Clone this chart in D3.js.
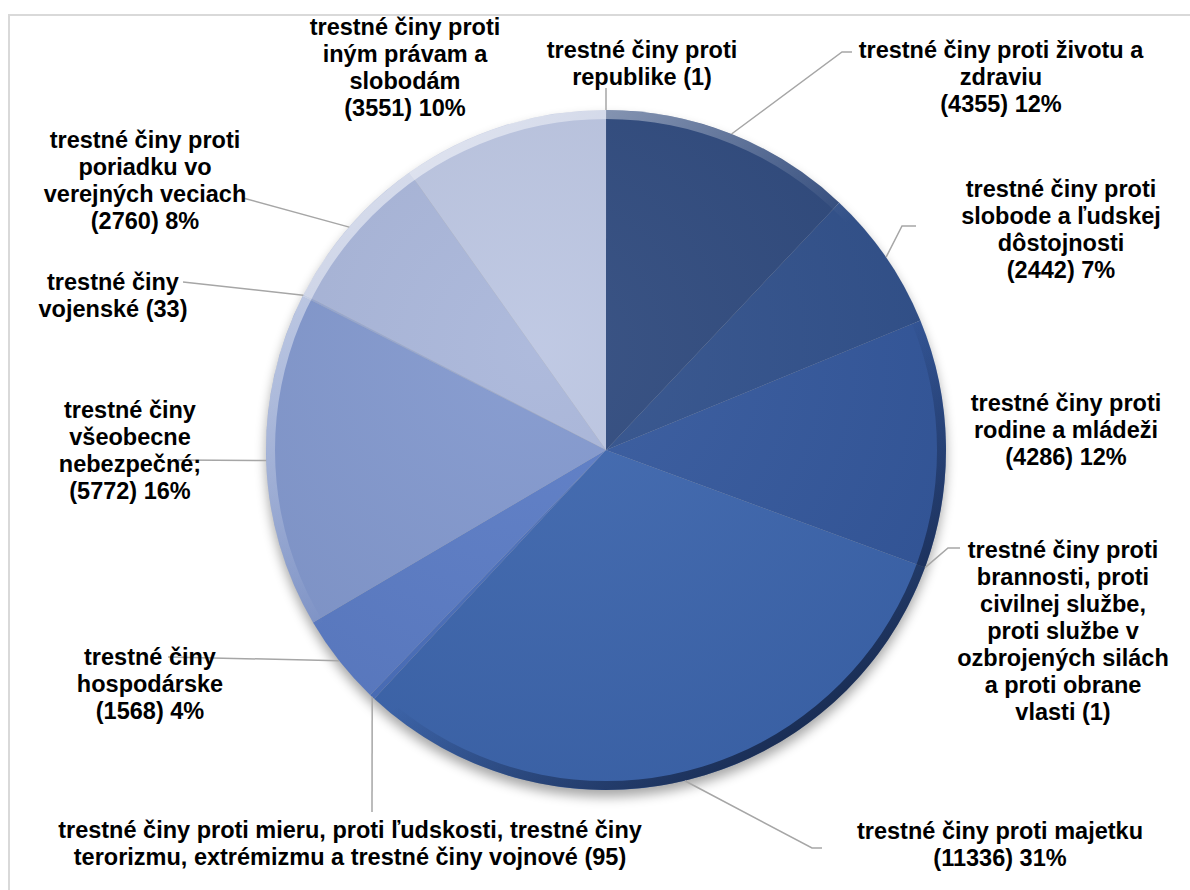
<!DOCTYPE html>
<html>
<head>
<meta charset="utf-8">
<script src="https://cdn.jsdelivr.net/npm/d3@7"></script>
<style>
  html, body { margin: 0; padding: 0; background: #fff; }
  svg { display: block; }
  .lbl { font-family: "Liberation Sans", Arial, sans-serif; font-weight: bold; font-size: 23.5px; fill: #000; }
</style>
</head>
<body>
<div id="chart"></div>
<script>
// slice names, already wrapped the way the labels are
var names = [
  ["trestné činy proti", "republike"],
  ["trestné činy proti životu a", "zdraviu"],
  ["trestné činy proti", "slobode a ľudskej", "dôstojnosti"],
  ["trestné činy proti", "rodine a mládeži"],
  ["trestné činy proti", "brannosti, proti", "civilnej službe,", "proti službe v", "ozbrojených silách", "a proti obrane", "vlasti"],
  ["trestné činy proti majetku"],
  ["trestné činy proti mieru, proti ľudskosti, trestné činy", "terorizmu, extrémizmu a trestné činy vojnové"],
  ["trestné činy", "hospodárske"],
  ["trestné činy", "všeobecne", "nebezpečné;"],
  ["trestné činy", "vojenské"],
  ["trestné činy proti", "poriadku vo", "verejných veciach"],
  ["trestné činy proti", "iným právam a", "slobodám"]
];
var values = [1, 4355, 2442, 4286, 1, 11336, 95, 1568, 5772, 33, 2760, 3551];

// styling / layout, kept apart from the data
var colors = ["#2c4677", "#2f4a7e", "#31518c", "#34589d", "#3a61ab", "#3d66ae",
              "#4a6fbc", "#5b7cc6", "#8298ce", "#95a7d4", "#a9b6da", "#bcc6e2"];
var labelAt = [[642, 50], [1001, 50], [1061, 189], [1066, 403], [1063, 550], [1000, 831],
               [350, 830], [150, 657], [130, 410], [113, 282], [145, 140], [405, 27]];
var leaderTo = [
  [[606, 88]], [[842, 52], [852, 52]], [[902, 226], [916, 226]], null,
  [[948, 548], [960, 548]], [[812, 848], [822, 848]], [[372, 812]], [[168, 657]],
  [[178, 460]], [[183, 282]], [[243, 198]], null
];

var width = 1190, height = 890,
    cx = 606, cy = 450, radius = 340,
    lineH = 27;

var svg = d3.select("#chart").append("svg")
    .attr("width", width)
    .attr("height", height);

var defs = svg.append("defs");

var shadow = defs.append("filter").attr("id", "shadow")
    .attr("x", "-20%").attr("y", "-20%").attr("width", "140%").attr("height", "140%");
shadow.append("feGaussianBlur").attr("in", "SourceAlpha").attr("stdDeviation", 6);
shadow.append("feOffset").attr("dy", 7).attr("result", "b");
shadow.append("feComponentTransfer").append("feFuncA").attr("type", "linear").attr("slope", 0.35);

var bevel = defs.append("linearGradient").attr("id", "bevel")
    .attr("x1", "15%").attr("y1", "10%").attr("x2", "80%").attr("y2", "95%");
bevel.append("stop").attr("offset", "0%").attr("stop-color", "#fff").attr("stop-opacity", 0.55);
bevel.append("stop").attr("offset", "45%").attr("stop-color", "#fff").attr("stop-opacity", 0);
bevel.append("stop").attr("offset", "60%").attr("stop-color", "#0b1630").attr("stop-opacity", 0);
bevel.append("stop").attr("offset", "100%").attr("stop-color", "#0b1630").attr("stop-opacity", 0.75);

var shine = defs.append("radialGradient").attr("id", "shine")
    .attr("cx", "40%").attr("cy", "35%").attr("r", "70%");
shine.append("stop").attr("offset", "0%").attr("stop-color", "#fff").attr("stop-opacity", 0.06);
shine.append("stop").attr("offset", "100%").attr("stop-color", "#000").attr("stop-opacity", 0.06);

// chart area border (only top and left visible)
svg.append("rect")
    .attr("x", 9).attr("y", 15)
    .attr("width", 1300).attr("height", 1000)
    .attr("fill", "none")
    .attr("stroke", "#d9d9d9")
    .attr("stroke-width", 2);

var pie = d3.pie().sort(null).value(function(d) { return d; });
var arcs = pie(values);
var total = d3.sum(values);

var arc = d3.arc().innerRadius(0).outerRadius(radius);
var edge = d3.arc().innerRadius(radius).outerRadius(radius);

var g = svg.append("g").attr("transform", "translate(" + cx + "," + cy + ")");

g.append("circle").attr("r", radius).attr("fill", "#555").attr("filter", "url(#shadow)");

g.selectAll("path.slice")
  .data(arcs)
  .enter()
  .append("path")
  .attr("class", "slice")
  .attr("d", arc)
  .attr("fill", function(d, i) { return colors[i]; });

g.append("circle").attr("r", radius).attr("fill", "url(#shine)");

g.append("path")
  .attr("d", d3.arc().innerRadius(radius - 9).outerRadius(radius)({startAngle: 0, endAngle: 2 * Math.PI}))
  .attr("fill", "url(#bevel)");

// leader lines
arcs.forEach(function(d, i) {
  if (!leaderTo[i]) return;
  var p = edge.centroid(d);
  var pts = [[cx + p[0], cy + p[1]]].concat(leaderTo[i]);
  svg.append("path")
    .attr("d", d3.line()(pts))
    .attr("fill", "none")
    .attr("stroke", "#a6a6a6")
    .attr("stroke-width", 1.5);
});

// labels
arcs.forEach(function(d, i) {
  var lines = names[i].slice();
  var pct = Math.round(values[i] / total * 100);
  if (pct > 0) {
    lines.push("(" + values[i] + ") " + pct + "%");
  } else {
    lines[lines.length - 1] += " (" + values[i] + ")";
  }
  var t = svg.append("text")
    .attr("class", "lbl")
    .attr("text-anchor", "middle");
  lines.forEach(function(s, k) {
    t.append("tspan")
      .attr("x", labelAt[i][0])
      .attr("y", labelAt[i][1] + k * lineH)
      .attr("dy", "0.35em")
      .text(s);
  });
});
</script>
</body>
</html>
